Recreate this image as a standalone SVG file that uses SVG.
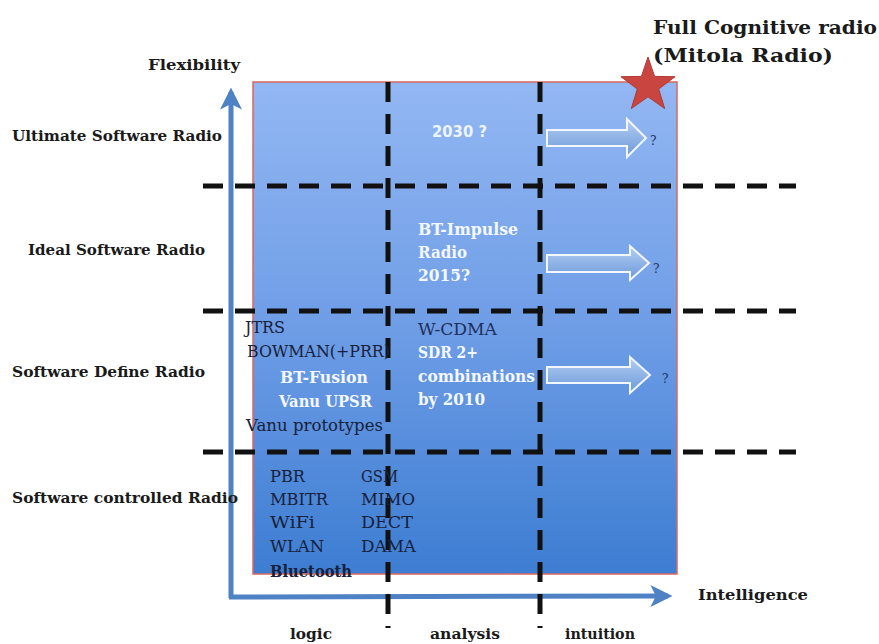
<svg xmlns="http://www.w3.org/2000/svg" width="879" height="644" viewBox="0 0 879 644">
<defs>
<linearGradient id="bg" x1="0" y1="0" x2="0" y2="1">
<stop offset="0" stop-color="#93b7f3"/>
<stop offset="0.5" stop-color="#6e9de6"/>
<stop offset="1" stop-color="#3d7dd2"/>
</linearGradient>
<linearGradient id="ag" x1="0" y1="0" x2="0" y2="1">
<stop offset="0" stop-color="#b4cef3"/>
<stop offset="1" stop-color="#6c99d9"/>
</linearGradient>
<marker id="ah" viewBox="0 0 10 10" refX="8" refY="5" markerWidth="4.4" markerHeight="4.4" orient="auto" markerUnits="strokeWidth">
<path d="M0,0 L10,5 L0,10 L2.5,5 Z" fill="#4f81c5"/>
</marker>
<style>
.lbl{font-family:"DejaVu Serif","Liberation Serif",serif;font-weight:bold;font-size:15px;fill:#1a1a1a}
.dk{font-family:"DejaVu Serif","Liberation Serif",serif;font-size:16px;fill:#17213a}
.wt{font-family:"DejaVu Serif","Liberation Serif",serif;font-weight:bold;font-size:16px;fill:#f4f8ff}
.nv{font-family:"DejaVu Serif","Liberation Serif",serif;font-size:16px;fill:#1f2f5c}
.q{font-family:"DejaVu Serif","Liberation Serif",serif;font-size:12px;fill:#1f2f5c}
.dash{stroke:#111;stroke-width:5;stroke-dasharray:20 12;fill:none}
.axis{stroke:#4f81c5;stroke-width:5;fill:none}
.barrow{fill:url(#ag);stroke:#f2f6ff;stroke-width:2}
</style>
</defs>
<rect width="879" height="644" fill="#fff"/>

<g id="panel">
<rect x="253" y="82" width="424" height="492" fill="url(#bg)" stroke="#d8685e" stroke-width="1.5"/>
</g>

<g id="connectors">
<line class="axis" x1="231" y1="598" x2="231" y2="92" marker-end="url(#ah)"/>
<line class="axis" x1="229" y1="597" x2="668" y2="596" marker-end="url(#ah)"/>
<line class="dash" x1="203" y1="186" x2="796" y2="186"/>
<line class="dash" x1="203" y1="311" x2="796" y2="311"/>
<line class="dash" x1="203" y1="452" x2="796" y2="452"/>
<line class="dash" x1="388" y1="82" x2="388" y2="628"/>
<line class="dash" x1="540" y1="82" x2="540" y2="628"/>
<path class="barrow" d="M547,130 H627 V119 L646,138 L627,157 V146 H547 Z"/>
<path class="barrow" d="M547,255 H630 V246 L649,263 L630,280 V272 H547 Z"/>
<path class="barrow" d="M547,367 H630 V357 L650,375 L630,393 V383 H547 Z"/>
</g>

<g id="star">
<polygon points="648,57 654.6,76.4 675.1,76.7 658.7,89.0 664.7,108.6 648,96.8 631.3,108.6 637.3,89.0 620.9,76.7 641.4,76.4" fill="#c9453f" stroke="#b03a36" stroke-width="1"/>
</g>

<g id="axis-labels">
<text class="lbl" x="148" y="70" textLength="92" lengthAdjust="spacingAndGlyphs">Flexibility</text>
<text class="lbl" x="698" y="600" textLength="110" lengthAdjust="spacingAndGlyphs">Intelligence</text>
<text class="lbl" x="653" y="34" textLength="224" lengthAdjust="spacingAndGlyphs" style="font-size:18px">Full Cognitive radio</text>
<text class="lbl" x="653" y="62" textLength="180" lengthAdjust="spacingAndGlyphs" style="font-size:18px">(Mitola Radio)</text>
<text class="lbl" x="290" y="639" textLength="42" lengthAdjust="spacingAndGlyphs">logic</text>
<text class="lbl" x="430" y="639" textLength="70" lengthAdjust="spacingAndGlyphs">analysis</text>
<text class="lbl" x="565" y="639" textLength="70" lengthAdjust="spacingAndGlyphs">intuition</text>
</g>

<g id="row-labels">
<text class="lbl" x="12" y="141" textLength="210" lengthAdjust="spacingAndGlyphs">Ultimate Software  Radio</text>
<text class="lbl" x="28" y="255" textLength="177" lengthAdjust="spacingAndGlyphs">Ideal Software  Radio</text>
<text class="lbl" x="12" y="377" textLength="193" lengthAdjust="spacingAndGlyphs">Software  Define Radio</text>
<text class="lbl" x="12" y="503" textLength="226" lengthAdjust="spacingAndGlyphs">Software controlled Radio</text>
</g>

<g id="ultimate">
<text x="432" y="137" textLength="55" lengthAdjust="spacingAndGlyphs" style="font-family:'DejaVu Sans','Liberation Sans',sans-serif;font-weight:bold;font-size:15px;fill:#eef4ff">2030 ?</text>
<text class="q" x="650" y="145">?</text>
</g>

<g id="ideal">
<text class="wt" x="418" y="235" textLength="100" lengthAdjust="spacingAndGlyphs">BT-Impulse</text>
<text class="wt" x="418" y="258" textLength="49" lengthAdjust="spacingAndGlyphs">Radio</text>
<text class="wt" x="418" y="281" textLength="52" lengthAdjust="spacingAndGlyphs">2015?</text>
<text class="q" x="653" y="273">?</text>
</g>

<g id="sdr">
<text class="dk" x="245" y="333" textLength="40" lengthAdjust="spacingAndGlyphs">JTRS</text>
<text class="dk" x="247" y="357" textLength="143" lengthAdjust="spacingAndGlyphs">BOWMAN(+PRR)</text>
<text class="wt" x="280" y="383" textLength="88" lengthAdjust="spacingAndGlyphs">BT-Fusion</text>
<text class="wt" x="279" y="407" textLength="93" lengthAdjust="spacingAndGlyphs">Vanu UPSR</text>
<text class="dk" x="246" y="431" textLength="137" lengthAdjust="spacingAndGlyphs">Vanu prototypes</text>
<text class="nv" x="418" y="335" textLength="79" lengthAdjust="spacingAndGlyphs">W-CDMA</text>
<text class="wt" x="418" y="358" textLength="60" lengthAdjust="spacingAndGlyphs">SDR 2+</text>
<text class="wt" x="418" y="382" textLength="117" lengthAdjust="spacingAndGlyphs">combinations</text>
<text class="wt" x="418" y="405" textLength="67" lengthAdjust="spacingAndGlyphs">by 2010</text>
<text class="q" x="662" y="383">?</text>
</g>

<g id="controlled">
<text class="dk" x="270" y="482" textLength="35" lengthAdjust="spacingAndGlyphs">PBR</text>
<text class="dk" x="270" y="505" textLength="58" lengthAdjust="spacingAndGlyphs">MBITR</text>
<text class="dk" x="270" y="528" textLength="45" lengthAdjust="spacingAndGlyphs">WiFi</text>
<text class="dk" x="270" y="552" textLength="54" lengthAdjust="spacingAndGlyphs">WLAN</text>
<text class="dk" x="270" y="577" textLength="82" lengthAdjust="spacingAndGlyphs" style="font-weight:bold">Bluetooth</text>
<text class="dk" x="361" y="482" textLength="37" lengthAdjust="spacingAndGlyphs">GSM</text>
<text class="dk" x="361" y="505" textLength="54" lengthAdjust="spacingAndGlyphs">MIMO</text>
<text class="dk" x="361" y="528" textLength="52" lengthAdjust="spacingAndGlyphs">DECT</text>
<text class="dk" x="361" y="552" textLength="55" lengthAdjust="spacingAndGlyphs">DAMA</text>
</g>
</svg>
